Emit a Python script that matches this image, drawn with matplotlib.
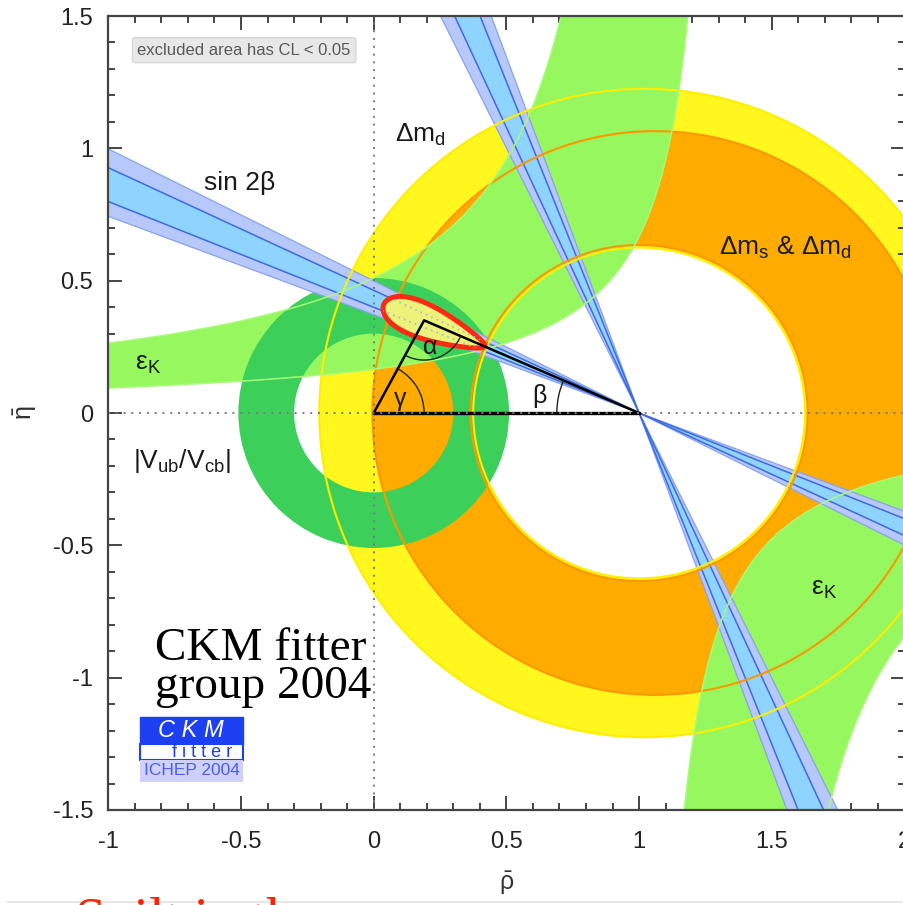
import numpy as np
import matplotlib
matplotlib.use("Agg")
import matplotlib.pyplot as plt
from matplotlib.patches import Annulus, Arc, Polygon, PathPatch, Rectangle
from matplotlib.path import Path
from matplotlib.lines import Line2D
from matplotlib.ticker import MultipleLocator

plt.rcParams["font.family"] = ["Liberation Sans", "DejaVu Sans"]
plt.rcParams["mathtext.fontset"] = "custom"
plt.rcParams["mathtext.rm"] = "Liberation Sans"
plt.rcParams["mathtext.it"] = "Liberation Sans:italic"
plt.rcParams["mathtext.bf"] = "Liberation Sans:bold"

# axis ticks
x_ticks = [-1, -0.5, 0, 0.5, 1, 1.5, 2]
x_ticklabels = ["-1", "-0.5", "0", "0.5", "1", "1.5", "2"]
y_ticks = [-1.5, -1, -0.5, 0, 0.5, 1, 1.5]
y_ticklabels = ["-1.5", "-1", "-0.5", "0", "0.5", "1", "1.5"]

# sin 2beta intervals (1 sigma and 95% CL)
sin2b_1sig = [0.689, 0.763]
sin2b_95 = [0.653, 0.799]

# |Vub/Vcb| ring around (0, 0): inner / outer radius
vub_radii = [0.30, 0.51]

# Delta m_d ring
dmd_center = [1.02, 0.0]
dmd_radii = [0.625, 1.225]
dmd_inner_center = [1.0, 0.0]

# Delta m_s & Delta m_d ring
dms_inner_center = [1.0, 0.0]
dms_inner_radius = 0.635
dms_outer_center = [1.06, 0.0]
dms_outer_radius = 1.065

# eps_K band edges, each eta * (x0 - rho) = k  ->  (x0, k)
epsk_upper_outer = [1.07, 0.546]
epsk_upper_inner = [1.33, 0.22]
epsk_lower_inner = [1.017, 0.23]
epsk_lower_outer = [1.344, 0.553]

# global fit: apex and 95% CL contour (long-axis end points, half width)
fit_rho, fit_eta = 0.19, 0.35
fit_contour_ends = [[0.038, 0.41], [0.418, 0.252]]
fit_contour_halfwidth = 0.061

YELLOW = "#fff71e"
ORANGE = "#ffab00"
LGREEN = "#97f75f"
DGREEN = "#3ccf5a"
BLUE_OUT = "#b7c8fa"
BLUE_IN = "#8fd3ff"


def ring_path(c_out, r_out, c_in, r_in, n=400):
    t = np.linspace(0, 2 * np.pi, n)
    outer = np.column_stack([c_out[0] + r_out * np.cos(t), c_out[1] + r_out * np.sin(t)])
    inner = np.column_stack([c_in[0] + r_in * np.cos(t[::-1]), c_in[1] + r_in * np.sin(t[::-1])])
    verts = np.concatenate([outer, inner])
    codes = np.full(len(verts), Path.LINETO)
    codes[0] = Path.MOVETO
    codes[n] = Path.MOVETO
    return Path(verts, codes)


def bowtie(apex, a1, a2, L=6.0):
    a = np.asarray(apex, float)
    u1 = np.array([np.cos(a1), np.sin(a1)])
    u2 = np.array([np.cos(a2), np.sin(a2)])
    return [a, a + L * u1, a + L * u2, a, a - L * u1, a - L * u2]


def hyper(edge, eta):
    return edge[0] - edge[1] / eta


fig = plt.figure(figsize=(9.04, 9.05), dpi=100)
ax = fig.add_axes([108.3 / 904, 95 / 905, 796.2 / 904, 794 / 905])
ax.set_xlim(-1, 2)
ax.set_ylim(-1.5, 1.5)

# Delta m_d and Delta m_s rings
ax.add_patch(PathPatch(ring_path(dmd_center, dmd_radii[1], dmd_inner_center, dmd_radii[0]),
                       fc=YELLOW, ec="none", zorder=1))
ax.add_patch(PathPatch(ring_path(dms_outer_center, dms_outer_radius, dms_inner_center, dms_inner_radius),
                       fc=ORANGE, ec="none", zorder=2))

# eps_K band (two branches of the hyperbola)
eta_up = np.linspace(0.02, 1.6, 500)
eta_dn = np.linspace(-1.6, -0.02, 500)
up_left = hyper(epsk_upper_outer, eta_up)
up_right = hyper(epsk_upper_inner, eta_up)
dn_left = hyper(epsk_lower_inner, eta_dn)
dn_right = hyper(epsk_lower_outer, eta_dn)
ax.fill_betweenx(eta_up, up_left, up_right, color=LGREEN, lw=0, zorder=3)
ax.fill_betweenx(eta_dn, dn_left, dn_right, color=LGREEN, lw=0, zorder=3)

# |Vub/Vcb| ring
ax.add_patch(Annulus((0, 0), vub_radii[1], vub_radii[1] - vub_radii[0], fc=DGREEN, ec="none", zorder=4))

# sin 2beta: two solutions through (1, 0)
apex = (1.0, 0.0)
b95 = 0.5 * np.arcsin(sin2b_95)
b1s = 0.5 * np.arcsin(sin2b_1sig)
for to_angle in (lambda b: np.pi - b, lambda b: np.pi / 2 + b):
    ax.add_patch(Polygon(bowtie(apex, to_angle(b95[0]), to_angle(b95[1])),
                         closed=True, fc=BLUE_OUT, ec="none", zorder=5))
    ax.add_patch(Polygon(bowtie(apex, to_angle(b1s[0]), to_angle(b1s[1])),
                         closed=True, fc=BLUE_IN, ec="none", zorder=5))
    for b, col, lw in [(b95[0], "#86a2f0", 0.9), (b95[1], "#86a2f0", 0.9),
                       (b1s[0], "#3f6ae0", 1.1), (b1s[1], "#3f6ae0", 1.1)]:
        ang = to_angle(b)
        ax.plot([1 - 6 * np.cos(ang), 1 + 6 * np.cos(ang)],
                [-6 * np.sin(ang), 6 * np.sin(ang)], color=col, lw=lw, zorder=5)

# constraint contour lines on top
t = np.linspace(0, 2 * np.pi, 400)
for c, r, col in [(dmd_center, dmd_radii[1], "#ffee00"), (dmd_inner_center, dmd_radii[0], "#ffee00"),
                  (dms_outer_center, dms_outer_radius, "#fb9800"),
                  (dms_inner_center, dms_inner_radius, "#fb9800")]:
    ax.plot(c[0] + r * np.cos(t), c[1] + r * np.sin(t), color=col, lw=1.5, zorder=6)
for xs, ys in [(up_left, eta_up), (up_right, eta_up), (dn_left, eta_dn), (dn_right, eta_dn)]:
    ax.plot(xs, ys, color="#a8fb78", lw=1.1, zorder=6)

# dotted axes
ax.axvline(0, color="#7a7a7a", ls=(0, (1, 3)), lw=1.4, zorder=7)
ax.axhline(0, color="#7a7a7a", ls=(0, (1, 3)), lw=1.4, zorder=10)

# fit contour
p0 = np.array(fit_contour_ends[0])
p1 = np.array(fit_contour_ends[1])
mid = (p0 + p1) / 2
half = np.linalg.norm(p1 - p0) / 2
u = (p1 - p0) / (2 * half)
nrm = np.array([-u[1], u[0]])
s = np.cos(t)
w = fit_contour_halfwidth * np.sin(t) * (1 - 0.45 * s)
pts = mid + np.outer(half * s, u) + np.outer(w, nrm)
contour = Polygon(pts, closed=True, fc="#ecf27a", ec="#ff2a14", lw=3.6, zorder=8)
ax.add_patch(contour)
for b in b1s:
    ang = np.pi - b
    ln, = ax.plot([1 - 6 * np.cos(ang), 1 + 6 * np.cos(ang)], [-6 * np.sin(ang), 6 * np.sin(ang)],
                  color="#a9b8c8", lw=1.2, ls=(0, (1, 2.5)), zorder=8.5)
    ln.set_clip_path(contour)

# unitarity triangle
ax.plot([0, 1], [0, 0], color="black", lw=2.4, zorder=9)
ax.plot([0, fit_rho, 1], [0, fit_eta, 0], color="black", lw=1.8, zorder=9)
gam = np.degrees(np.arctan2(fit_eta, fit_rho))
ax.add_patch(Arc((0, 0), 0.38, 0.38, theta1=0, theta2=gam, color="#222222", lw=1.0, zorder=9))
ax.add_patch(Arc((fit_rho, fit_eta), 0.30, 0.30,
                 theta1=np.degrees(np.arctan2(-fit_eta, -fit_rho)) % 360,
                 theta2=np.degrees(np.arctan2(-fit_eta, 1 - fit_rho)) % 360,
                 color="#222222", lw=1.0, zorder=9))
ax.add_patch(Arc((1, 0), 0.62, 0.62, theta1=np.degrees(np.arctan2(fit_eta, fit_rho - 1)),
                 theta2=180, color="#222222", lw=1.0, zorder=9))

greek = dict(color="#1a1a1a", fontsize=18, zorder=11, ha="center", va="center")
ax.text(0.214, 0.249, "α", **greek)
ax.text(0.10, 0.053, "γ", **greek)
ax.text(0.626, 0.064, "β", **greek)
txt = dict(color="#1a1a1a", fontsize=19, zorder=11, ha="left", va="baseline")
ax.text(-0.639, 0.842, "sin 2β", **txt)
ax.text(0.082, 1.024, r"Δm$_\mathrm{d}$", **txt)
ax.text(1.30, 0.597, r"Δm$_\mathrm{s}$ & Δm$_\mathrm{d}$", **txt)
ax.text(-0.90, 0.162, r"ε$_\mathrm{K}$", **txt)
ax.text(1.648, -0.688, r"ε$_\mathrm{K}$", **txt)
ax.text(-0.907, -0.208, r"|V$_\mathrm{ub}$/V$_\mathrm{cb}$|", **txt)

ax.text(-0.488, 1.371, "excluded area has CL < 0.05", ha="center", va="center", fontsize=12,
        color="#5a5a5a", zorder=11,
        bbox=dict(boxstyle="round,pad=0.3,rounding_size=0.15", fc="#e8e8e8", ec="#d6d6d6", lw=1))

serif = dict(family="Liberation Serif", fontsize=34, color="black", ha="left", va="baseline", zorder=11)
ax.text(-0.823, -0.933, "CKM fitter", **serif)
ax.text(-0.823, -1.078, "group 2004", **serif)

# CKMfitter logo
ax.add_patch(Rectangle((-0.88, -1.25), 0.388, 0.102, fc="#1d3ff2", ec="#1d3ff2", zorder=11))
ax.text(-0.69, -1.199, "C K M", ha="center", va="center", color="white", style="italic",
        fontsize=17, zorder=12)
ax.add_patch(Rectangle((-0.88, -1.311), 0.388, 0.061, fc="white", ec="#1d3ff2", lw=1.5, zorder=11))
ax.text(-0.648, -1.284, "f i t t e r", ha="center", va="center", color="#1d3ff2", fontsize=13, zorder=12)
ax.add_patch(Rectangle((-0.88, -1.394), 0.388, 0.083, fc="#cdd1fb", ec="none", zorder=11))
ax.text(-0.686, -1.352, "ICHEP 2004", ha="center", va="center", color="#4c5ef0", fontsize=12.5, zorder=12)

# axes styling
ax.set_xticks(x_ticks)
ax.set_xticklabels(x_ticklabels)
ax.set_yticks(y_ticks)
ax.set_yticklabels(y_ticklabels)
ax.xaxis.set_minor_locator(MultipleLocator(0.1))
ax.yaxis.set_minor_locator(MultipleLocator(0.1))
ax.tick_params(which="both", direction="in", top=True, right=True, color="#444444", width=1.4)
ax.tick_params(which="major", length=10, labelsize=17, labelcolor="#222222")
ax.tick_params(axis="y", which="major", pad=11)
ax.tick_params(axis="x", which="major", pad=15)
ax.tick_params(which="minor", length=5)
for sp in ax.spines.values():
    sp.set_color("#444444")
    sp.set_linewidth(1.6)
    sp.set_zorder(12)
ax.set_xlabel(r"$\bar{\mathrm{\rho}}$", fontsize=18, color="#333333", labelpad=12)
ax.set_ylabel(r"$\bar{\mathrm{\eta}}$", fontsize=18, color="#333333", labelpad=10)

# cropped slide text below the plot
fig.text(75 / 904, (905 - 937) / 905, "Spilt in the", color="#ff2200", family="Liberation Serif",
         fontsize=40, va="baseline", ha="left")
fig.add_artist(Line2D([7 / 904, 1], [1 - 902 / 905] * 2, color="#e2e2e2", lw=1.2))

fig.savefig("out.png", dpi=100)
